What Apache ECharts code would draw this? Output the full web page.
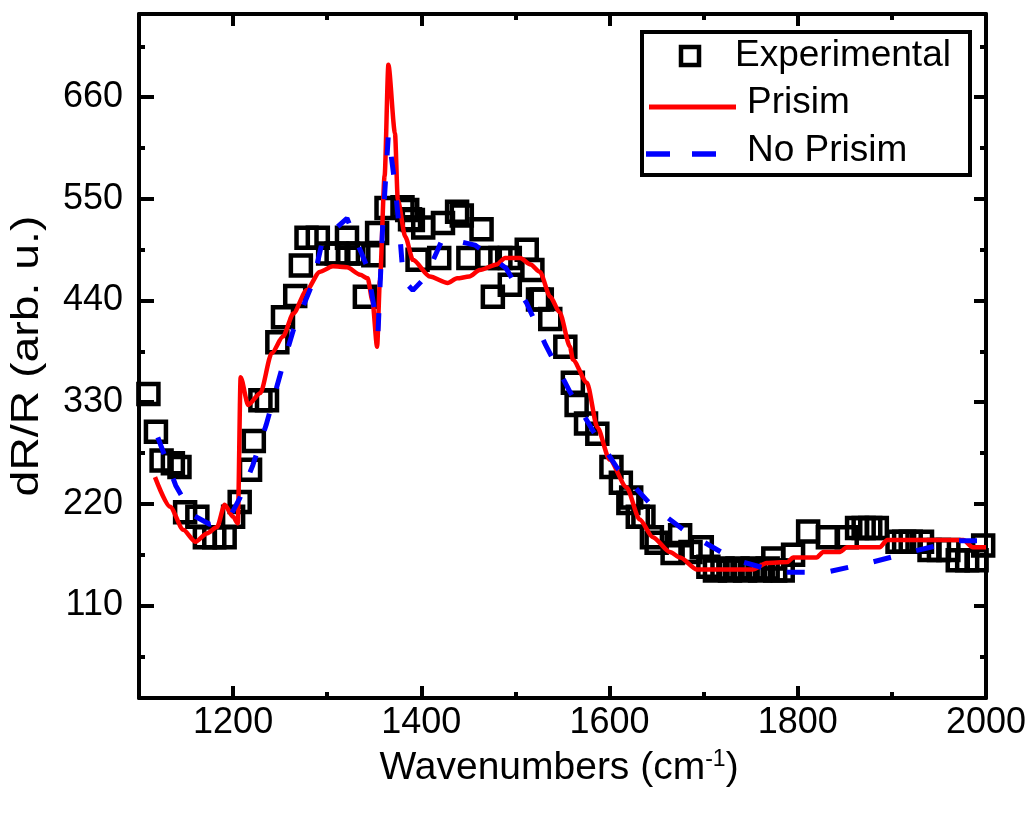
<!DOCTYPE html>
<html>
<head>
<meta charset="utf-8">
<script src="https://cdn.jsdelivr.net/npm/echarts@6/dist/echarts.min.js"></script>
<style>
html,body{margin:0;padding:0;background:#fff;}
#chart{width:1032px;height:817px;}
</style>
</head>
<body>
<div id="chart"></div>
<script>
// ---- data ----
const expX = [1110,1118,1124,1136,1143,1149,1162,1170,1180,1191,1200,1207,1218,1222,1229,1236,1247,1253,1266,1272,1278,1290,1301,1310,1321,1322,1333,1340,1349,1353,1363,1380,1385,1388,1391,1396,1402,1419,1423,1438,1443,1450,1464,1470,1476,1484,1494,1494,1512,1518,1524,1528,1537,1553,1561,1565,1575,1587,1602,1612,1620,1623,1630,1636,1645,1650,1667,1675,1686,1698,1705,1712,1720,1728,1736,1744,1752,1760,1768,1774,1776,1784,1795,1811,1832,1852,1863,1870,1877,1884,1906,1913,1920,1932,1940,1950,1960,1970,1980,1990,1997];
const expY = [339,298,267,264,260,211,206,184,184,184,206,222,257,288,332,332,395,422,445,478,508,508,491,491,508,491,491,444,489,513,540,541,538,528,527,484,519,486,524,536,532,486,517,486,444,486,486,457,495,473,441,441,420,390,351,327,307,296,260,243,221,227,206,206,184,178,167,186,168,173,152,148,150,148,150,148,150,148,150,161,148,148,165,190,184,184,194,194,194,194,179,179,179,179,170,170,170,159,159,159,175];

const prismX = [1117,1133,1147,1160,1172,1183,1191,1200,1205,1208,1216,1229,1241,1253,1264,1278,1292,1306,1321,1335,1343,1348,1353,1356,1361,1365,1372,1375,1383,1391,1409,1428,1438,1451,1462,1480,1489,1505,1516,1526,1537,1547,1558,1561,1576,1587,1600,1618,1632,1646,1664,1675,1693,1752,1767,1789,1795,1820,1827,1845,1852,1887,1895,1976,1986,2000];
const prismY = [249,217,192,179,188,195,219,206,199,357,327,340,383,401,426,451,471,477,476,468,464,440,390,462,575,695,621,549,509,484,466,459,464,466,473,479,486,486,479,471,444,427,390,376,351,303,268,238,203,184,168,162,149,149,156,157,162,162,168,168,173,173,181,181,173,173];

const noPrismX = [1120,1139,1157,1175,1195,1207,1221,1235,1252,1264,1285,1295,1321,1343,1354,1359,1365,1372,1377,1381,1391,1405,1423,1457,1490,1512,1532,1558,1583,1608,1645,1681,1732,1780,1830,1879,1928,1970,1997];
const noPrismY = [292,240,208,198,203,226,262,305,367,408,460,505,529,475,406,522,620,565,513,462,451,466,508,500,475,437,392,341,298,259,218,190,160,146,146,157,170,180,180];

const xMajor = [1200,1400,1600,1800,2000];
const xMinor = [1300,1500,1700,1900];
const yMajor = [110,220,330,440,550,660];
const yMinor = [55,165,275,385,495,605,715];
const seriesNames = ['Experimental','Prisim','No Prisim'];
const xTitle = 'Wavenumbers (cm{sup|-1})';
const yTitle = 'dR/R (arb. u.)';

// ---- chart ----
const font = "'Liberation Sans', Arial, sans-serif";
const X_MIN = 1100, X_MAX = 2000, Y_MIN = 10, Y_MAX = 750;
const gridRect = {left:139, top:14, right:46, bottom:119};

function xAxisDef(grid, pos, ticks, len, withLine, withLabels) {
  return {
    type:'value', gridIndex:grid, position:pos, min:X_MIN, max:X_MAX,
    axisLine:{show:withLine, onZero:false, lineStyle:{color:'#000', width:4}},
    axisTick:{show:true, inside:true, length:len, customValues:ticks, lineStyle:{color:'#000', width:4}},
    axisLabel:{show:withLabels, customValues:ticks, color:'#000', fontSize:36, fontFamily:font, margin:7,
               formatter: v => String(v)},
    splitLine:{show:false}
  };
}
function yAxisDef(grid, pos, ticks, len, withLine, withLabels) {
  return {
    type:'value', gridIndex:grid, position:pos, min:Y_MIN, max:Y_MAX,
    axisLine:{show:withLine, onZero:false, lineStyle:{color:'#000', width:4}},
    axisTick:{show:true, inside:true, length:len, customValues:ticks, lineStyle:{color:'#000', width:4}},
    axisLabel:{show:withLabels, customValues:ticks, color:'#000', fontSize:36, fontFamily:font, margin:16,
               formatter: v => String(v)},
    splitLine:{show:false}
  };
}

const xAxes = [
  xAxisDef(0,'bottom',xMajor,12,true,true),
  xAxisDef(0,'top',xMajor,12,true,false),
  xAxisDef(1,'bottom',xMinor,6,false,false),
  xAxisDef(1,'top',xMinor,6,false,false)
];
const yAxes = [
  yAxisDef(0,'left',yMajor,15,true,true),
  yAxisDef(0,'right',yMajor,12,true,false),
  yAxisDef(1,'left',yMinor,6,false,false),
  yAxisDef(1,'right',yMinor,6,false,false)
];

const zip = (xs, ys) => xs.map((x,i)=>[x, ys[i]]);

const legendFont = '37px ' + font;
const graphics = [
  // axis titles
  {type:'text', x:559, y:768, z:10,
   style:{text:xTitle, font:'39px ' + font, fill:'#000', align:'center', verticalAlign:'middle',
          rich:{sup:{fontSize:23, fontFamily:font, fill:'#000', verticalAlign:'top'}}}},
  {type:'text', x:28, y:356, rotation:Math.PI/2, scaleX:1.22, z:10,
   style:{text:yTitle, font:'38px ' + font, fill:'#000', align:'center', verticalAlign:'middle'}},
  // legend
  {type:'rect', z:20, shape:{x:642, y:32, width:328, height:143},
   style:{fill:'#fff', stroke:'#000', lineWidth:4}},
  {type:'rect', z:21, shape:{x:681, y:47, width:18, height:18},
   style:{fill:'none', stroke:'#000', lineWidth:4.5}},
  {type:'text', z:21, x:735, y:56, style:{text:seriesNames[0], font:legendFont, fill:'#000', align:'left', verticalAlign:'middle'}},
  {type:'line', z:21, shape:{x1:649, y1:107, x2:736, y2:107}, style:{stroke:'#ff0000', lineWidth:5}},
  {type:'text', z:21, x:747, y:103, style:{text:seriesNames[1], font:legendFont, fill:'#000', align:'left', verticalAlign:'middle'}},
  {type:'line', z:21, shape:{x1:646, y1:154, x2:716, y2:154}, style:{stroke:'#0000ff', lineWidth:5.5, lineDash:[24,22]}},
  {type:'text', z:21, x:747, y:151, style:{text:seriesNames[2], font:legendFont, fill:'#000', align:'left', verticalAlign:'middle'}}
];

const option = {
  animation:false,
  backgroundColor:'#fff',
  grid:[Object.assign({}, gridRect), Object.assign({}, gridRect)],
  xAxis: xAxes,
  yAxis: yAxes,
  graphic: graphics,
  series:[
    {
      name:seriesNames[0], type:'scatter', xAxisIndex:0, yAxisIndex:0,
      symbol:'rect', symbolSize:20,
      itemStyle:{color:'rgba(0,0,0,0)', borderColor:'#000', borderWidth:4.5, opacity:1},
      data: zip(expX, expY), z:2
    },
    {
      name:seriesNames[1], type:'line', xAxisIndex:0, yAxisIndex:0,
      symbol:'none', showSymbol:false, smooth:0.25, smoothMonotone:'x',
      lineStyle:{color:'#ff0000', width:4.5},
      itemStyle:{color:'#ff0000'},
      data: zip(prismX, prismY), z:3
    },
    {
      name:seriesNames[2], type:'line', xAxisIndex:0, yAxisIndex:0,
      symbol:'none', showSymbol:false,
      lineStyle:{color:'#0000ff', width:5, type:[18,26]},
      itemStyle:{color:'#0000ff'},
      data: zip(noPrismX, noPrismY), z:4
    }
  ]
};

const chart = echarts.init(document.getElementById('chart'), null, {renderer:'canvas'});
chart.setOption(option);
</script>
</body>
</html>
